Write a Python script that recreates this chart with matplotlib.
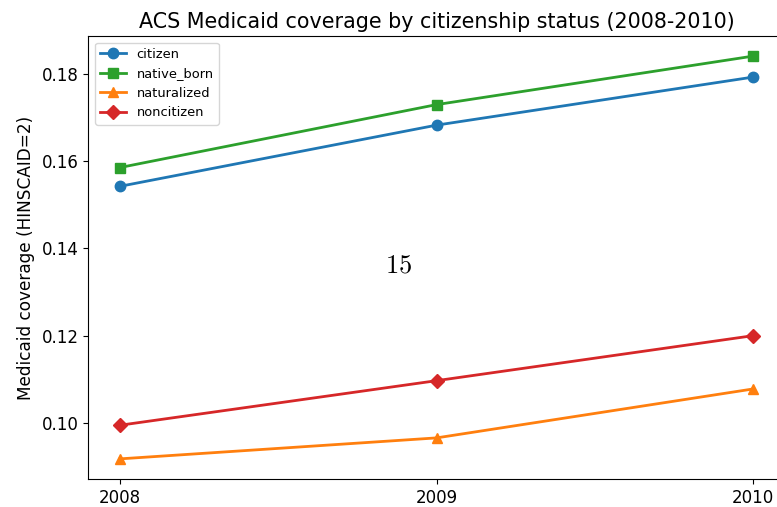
import matplotlib
matplotlib.use("Agg")
import matplotlib.pyplot as plt

years = [2008, 2009, 2010]
citizen = [0.1542, 0.1682, 0.1792]
native_born = [0.1585, 0.1729, 0.1840]
naturalized = [0.0918, 0.0966, 0.1078]
noncitizen = [0.0995, 0.1097, 0.1200]

series = [
    ("citizen", citizen, "o", "tab:blue"),
    ("native_born", native_born, "s", "tab:green"),
    ("naturalized", naturalized, "^", "tab:orange"),
    ("noncitizen", noncitizen, "D", "tab:red"),
]

plt.rcParams["mathtext.fontset"] = "cm"

fig = plt.figure(figsize=(7.77, 5.07), dpi=100)
# axes runs slightly past the right edge of the figure
ax = fig.add_axes([88.4 / 777, 28 / 507, 696.2 / 777, 443 / 507])

for name, vals, mk, col in series:
    ax.plot(years, vals, marker=mk, color=col, label=name, linewidth=2, markersize=7.5)

ax.set_xticks(years)
ax.set_ylabel("Medicaid coverage (HINSCAID=2)", fontsize=12.2, labelpad=5)
ax.set_title("ACS Medicaid coverage by citizenship status (2008-2010)", fontsize=14.9)
ax.tick_params(labelsize=12)
ax.legend(loc="upper left", fontsize=9.4)
ax.text(0.445, 0.481, "$15$", transform=ax.transAxes, fontsize=19,
        ha="center", va="center")

fig.savefig("out.png", dpi=100)
